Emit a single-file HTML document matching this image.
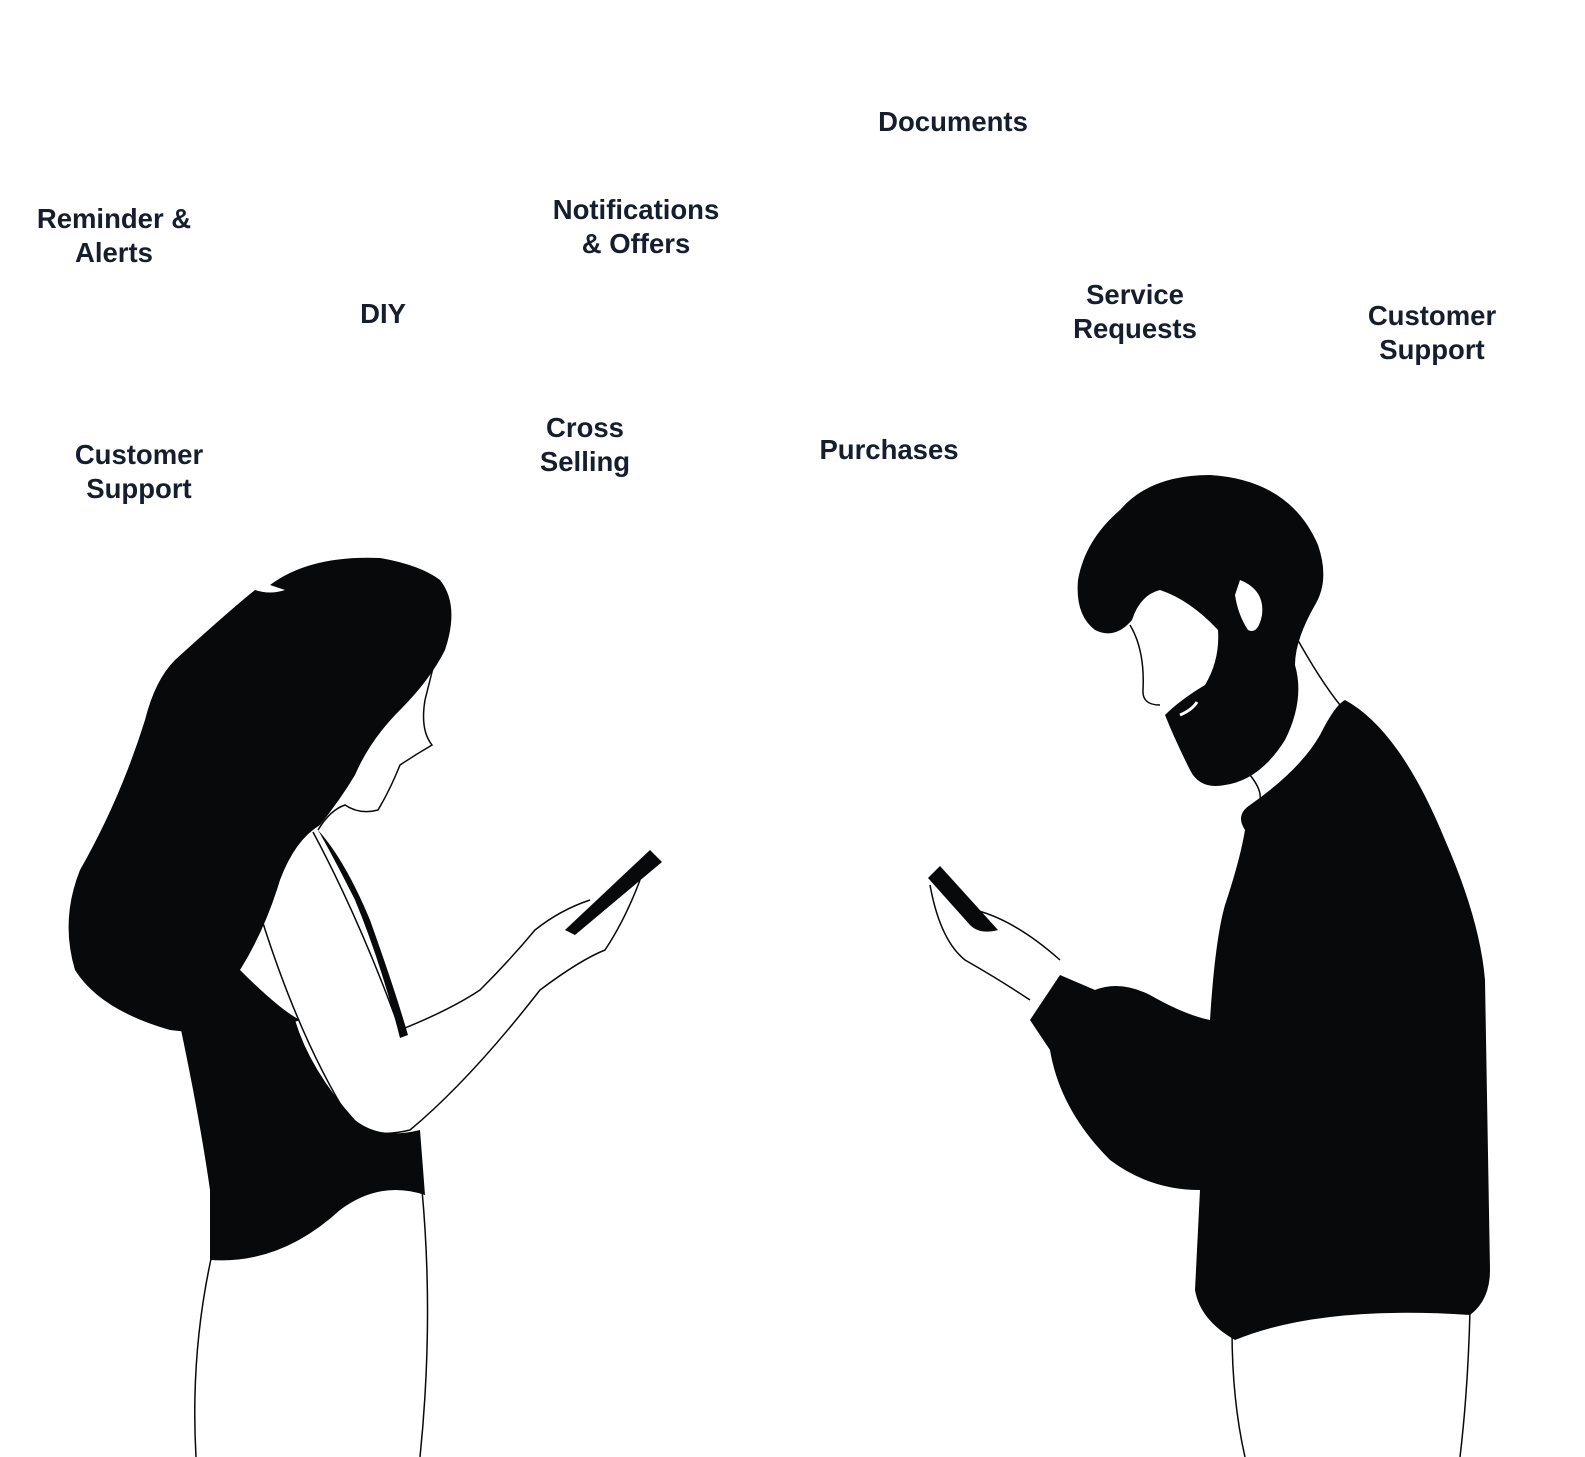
<!DOCTYPE html>
<html><head><meta charset="utf-8"><style>
html,body{margin:0;padding:0;background:#fff;}
svg{display:block}
text{font-family:"Liberation Sans",sans-serif;font-weight:bold;font-size:27.5px;fill:#161d2e;text-anchor:middle}
</style></head><body>
<svg width="1585" height="1457" viewBox="0 0 1585 1457" xmlns="http://www.w3.org/2000/svg">
<rect width="1585" height="1457" fill="#fff"/>
<text x="953" y="131">Documents</text>
<text x="114" y="228">Reminder &amp;</text>
<text x="114" y="262">Alerts</text>
<text x="636" y="219">Notifications</text>
<text x="636" y="253">&amp; Offers</text>
<text x="383" y="323">DIY</text>
<text x="1135" y="304">Service</text>
<text x="1135" y="338">Requests</text>
<text x="1432" y="325">Customer</text>
<text x="1432" y="359">Support</text>
<text x="585" y="437">Cross</text>
<text x="585" y="471">Selling</text>
<text x="889" y="459">Purchases</text>
<text x="139" y="464">Customer</text>
<text x="139" y="498">Support</text>

<g stroke="#07090a" stroke-width="1.5" fill="none">
<path d="M213 1250 Q190 1350 196 1457"/>
<path d="M422 1190 Q434 1320 420 1457"/>
<path d="M440 640 Q430 680 425 700 Q420 730 432 745 Q415 755 400 765 Q390 790 378 810 Q360 815 345 805 Q330 810 318 830"/>
<path d="M262 920 Q300 1040 350 1120 Q370 1140 410 1130 Q470 1080 540 990 Q580 960 605 950 Q625 920 640 880 M540 990"/>
<path d="M400 1030 Q450 1010 480 990 Q510 960 535 930 Q560 910 590 900"/>
<path d="M313 832 Q360 920 400 1030"/>
<path d="M1130 625 Q1145 650 1143 690 Q1142 705 1160 705"/>
<path d="M1295 635 Q1320 680 1340 705"/>
<path d="M1250 775 Q1262 790 1260 800"/>
<path d="M1232 1330 Q1232 1400 1245 1457"/>
<path d="M1470 1310 Q1468 1390 1460 1457"/>
<path d="M930 885 Q940 940 965 960 Q1000 980 1030 1000"/>
<path d="M975 910 Q1015 920 1060 960"/>
</g>

<g fill="#07090a">
<path d="M270 585 Q310 555 380 558 Q420 565 440 580 Q460 605 445 650 Q430 680 400 710 Q370 740 355 775 Q340 800 320 825 Q295 840 280 880 Q265 930 240 970 Q280 1010 300 1020 Q250 1040 170 1030 Q100 1010 75 970 Q60 920 80 870 Q120 800 145 720 Q155 680 175 660 Q230 610 255 590 Q270 595 285 590 Z"/>
<path d="M180 1025 Q200 1120 210 1190 L210 1260 Q280 1265 340 1210 Q380 1180 425 1195 L420 1130 Q380 1140 355 1120 Q310 1070 295 1020 Q240 1035 180 1025 Z"/>
<path d="M318 830 Q345 860 370 920 Q395 990 408 1035 L400 1038 Q380 960 355 900 Q335 860 318 830Z"/>
<path d="M565 930 L650 850 L662 862 L575 935 Z"/>
<path d="M1210 475 Q1290 480 1318 545 Q1330 580 1315 605 Q1295 640 1295 665 Q1305 700 1285 740 Q1260 780 1225 785 Q1200 790 1190 770 Q1175 740 1165 715 Q1180 700 1205 685 Q1220 660 1218 630 Q1190 600 1160 590 Q1140 595 1132 620 Q1115 640 1095 630 Q1075 615 1078 580 Q1085 540 1120 510 Q1150 475 1210 475 Z"/>
<path d="M1345 700 Q1400 730 1445 840 Q1480 920 1485 980 L1490 1270 Q1490 1300 1470 1315 Q1320 1305 1235 1340 Q1200 1320 1195 1290 L1200 1190 Q1150 1190 1110 1160 Q1060 1110 1050 1050 L1030 1020 L1060 975 L1095 990 Q1120 980 1150 995 Q1185 1015 1210 1020 Q1215 940 1225 905 Q1240 860 1245 830 Q1235 815 1250 805 Q1300 770 1320 735 Q1335 705 1345 700 Z"/>
<path d="M928 878 L940 866 L998 930 Q980 935 970 925 Z"/>
</g>
<path d="M1240 580 Q1265 590 1262 615 Q1258 635 1248 630 Q1238 615 1235 595 Z" fill="#fff"/>
<path d="M1180 715 Q1192 710 1197 702" stroke="#fff" stroke-width="3" fill="none"/>
</svg>
</body></html>
